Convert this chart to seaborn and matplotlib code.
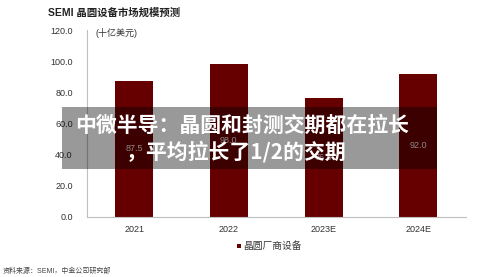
import matplotlib
matplotlib.use("Agg")
import matplotlib.pyplot as plt
from matplotlib.patches import Rectangle
import seaborn as sns
import pandas as pd

categories = ["2021", "2022", "2023E", "2024E"]
values = [87.5, 98.0, 76.0, 92.0]
value_labels = ["87.5", "98.0", "76.0", "92.0"]
yticks = [0, 20, 40, 60, 80, 100, 120]
series_name = "晶圆厂商设备"
title = "SEMI 晶圆设备市场规模预测"
unit = "(十亿美元)"
source = "资料来源：SEMI，中金公司研究部"
overlay_line1 = "中微半导：晶圆和封测交期都在拉长"
overlay_line2 = "，平均拉长了1/2的交期"

sns.set_theme(style="white")
plt.rcParams['font.family'] = ['Liberation Sans', 'Noto Sans CJK SC', 'DejaVu Sans']

W, H = 500, 277
fig = plt.figure(figsize=(W / 100, H / 100), dpi=100)
ax = fig.add_axes([86.7 / W, 1 - 216.7 / H, (465.7 - 86.7) / W, (216.7 - 30) / H])

df = pd.DataFrame({"year": categories, "value": values})
BAR = "#660000"
sns.barplot(data=df, x="year", y="value", color=BAR, width=0.4, ax=ax,
            saturation=1, edgecolor="none")

for i, (v, lab) in enumerate(zip(values, value_labels)):
    ax.text(i, v / 2, lab, ha="center", va="center", fontsize=6.5, color="#f0e0e0")

ax.set_ylim(0, 120)
ax.set_xlim(-0.5, 3.5)
ax.set_yticks(yticks)
ax.set_yticklabels([f"{t:.1f}" for t in yticks], fontsize=6.5, color="#333333")
ax.set_xlabel("")
ax.set_ylabel("")
ax.tick_params(axis="x", length=0, labelsize=6.5, labelcolor="#333333", pad=6)
ax.tick_params(axis="y", length=0, pad=10)
ax.set_xticks([-0.5, 0.5, 1.5, 2.5, 3.5], minor=True)
ax.tick_params(axis="x", which="minor", length=3, color="#bfbfbf", width=0.8)
for s in ["top", "right"]:
    ax.spines[s].set_visible(False)
for s in ["left", "bottom"]:
    ax.spines[s].set_color("#bfbfbf")
    ax.spines[s].set_linewidth(0.8)

fig.text(48 / W, 1 - 13 / H, title, fontsize=7.5, fontweight="bold", color="#222222",
         ha="left", va="center")
fig.text(95 / W, 1 - 33 / H, unit, fontsize=6.5, color="#333333", ha="left", va="center")

# legend
fig.patches.append(Rectangle(((236.5) / W, 1 - 248 / H), 4 / W, 4 / H,
                             transform=fig.transFigure, facecolor=BAR, edgecolor="none"))
fig.text(243 / W, 1 - 246 / H, series_name, fontsize=7, color="#333333", ha="left", va="center")

fig.text(3 / W, 1 - 271 / H, source, fontsize=5, color="#444444", ha="left", va="center")

# overlay banner
fig.patches.append(Rectangle((62 / W, 1 - 169 / H), (437 - 62) / W, (169 - 107) / H,
                             transform=fig.transFigure, facecolor="black", alpha=0.4,
                             edgecolor="none", zorder=10))
fig.text(75 / W, 1 - 125 / H, overlay_line1, fontsize=15, fontweight="bold", color="white",
         ha="left", va="center", family=['Noto Sans CJK SC', 'DejaVu Sans'], zorder=11)
fig.text(126 / W, 1 - 152 / H, overlay_line2, fontsize=15, fontweight="bold", color="white",
         ha="left", va="center", family=['Noto Sans CJK SC', 'DejaVu Sans'], zorder=11)

fig.savefig("out.png", dpi=100)
